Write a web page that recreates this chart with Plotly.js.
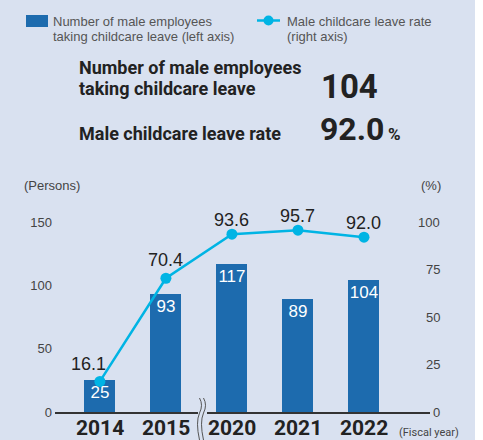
<!DOCTYPE html>
<html>
<head>
<meta charset="utf-8">
<script src="https://cdn.plot.ly/plotly-3.0.1.min.js"></script>
<style>
html,body{margin:0;padding:0;background:#ffffff;}
#wrap{position:absolute;left:0;top:0;width:475px;height:440px;background:#d9e1f0;}
#chart{position:absolute;left:0;top:0;width:483px;height:440px;}
</style>
</head>
<body>
<div id="wrap"></div>
<div id="chart"></div>
<script>
// ---- data ----
const years = ["2014", "2015", "2020", "2021", "2022"];
const maleEmployees = [25, 93, 117, 89, 104];
const leaveRate = [16.1, 70.4, 93.6, 95.7, 92.0];
const leftTicks = [0, 50, 100, 150];
const rightTicks = [0, 25, 50, 75, 100];
const headlineCount = "104";
const headlineRate = "92.0";

// ---- geometry helpers (pixel -> paper) ----
const L = 55, R = 430, T = 222, B = 412;
const X = px => (px - L) / (R - L);
const Y = py => (B - py) / (B - T);

const BAR = "#1d6bae", LINE = "#00b4e4", BG = "#d9e1f0";
const REG = "Liberation Sans, Arial, sans-serif";
const HEAD = "Roboto, Liberation Sans, sans-serif";

const bars = {
  type: "bar", x: years, y: maleEmployees, yaxis: "y",
  marker: {color: BAR}, width: 0.47,
  text: maleEmployees.map(String), textposition: "inside", insidetextanchor: "end",
  textangle: 0, constraintext: "none",
  textfont: {color: "#ffffff", size: 17, family: REG},
  hoverinfo: "skip", cliponaxis: false
};
const line = {
  type: "scatter", mode: "lines+markers", x: years, y: leaveRate, yaxis: "y2",
  line: {color: LINE, width: 2.5}, marker: {color: LINE, size: 11},
  hoverinfo: "skip", cliponaxis: false
};

const ann = [];
// line value labels (x given as category index)
leaveRate.forEach((v, i) => {
  ann.push({x: i, y: v, xref: "x", yref: "y2", text: v.toFixed(1),
    showarrow: false, xanchor: "center", yanchor: "middle",
    xshift: i === 0 ? -11 : 0, yshift: i === 1 ? 18 : (i === 0 ? 17 : 14),
    font: {size: 18, color: "#222", family: REG}});
});
// x category labels
years.forEach((yr, i) => {
  ann.push({x: i, y: Y(428), xref: "x", yref: "paper", text: "<b>" + yr + "</b>",
    showarrow: false, xanchor: "center", yanchor: "middle",
    font: {size: 21, color: "#222", family: HEAD}});
});
// right axis tick labels (right aligned)
rightTicks.forEach(v => {
  ann.push({x: X(442), y: v, xref: "paper", yref: "y2", text: String(v),
    showarrow: false, xanchor: "right", yanchor: "middle",
    font: {size: 13, color: "#444", family: REG}});
});
function txt(text, px, py, opt) {
  ann.push(Object.assign({x: X(px), y: Y(py), xref: "paper", yref: "paper", text: text,
    showarrow: false, xanchor: "left", yanchor: "middle",
    font: {size: 13, color: "#555", family: REG}}, opt || {}));
}
// axis unit labels
txt("(Persons)", 22, 185, {font: {size: 13, color: "#444", family: REG}});
txt("(%)", 443, 185, {xanchor: "right", font: {size: 13, color: "#444", family: REG}});
txt("(Fiscal year)", 397, 432, {font: {size: 11, color: "#444", family: HEAD}});
// legend texts
txt("Number of male employees", 51, 21);
txt("taking childcare leave (left axis)", 51, 36);
txt("Male childcare leave rate", 285, 21);
txt("(right axis)", 285, 36);
// headlines
const H = {size: 18, color: "#222", family: HEAD};
txt("<b>Number of male employees</b>", 77, 68, {font: H});
txt("<b>taking childcare leave</b>", 77, 88, {font: H});
txt("<b>Male childcare leave rate</b>", 77, 133, {font: H});
txt("<b>" + headlineCount + "</b>", 319, 86, {font: {size: 33, color: "#222", family: HEAD}});
txt("<b>" + headlineRate + "</b>", 318, 129, {font: {size: 32, color: "#222", family: HEAD}});
txt("<b>%</b>", 386, 134, {font: {size: 17, color: "#222", family: HEAD}});

const shapes = [
  // legend bar swatch
  {type: "rect", xref: "paper", yref: "paper", x0: X(26), x1: X(48), y0: Y(15), y1: Y(27),
   fillcolor: BAR, line: {width: 0}},
  // legend line swatch
  {type: "line", xref: "paper", yref: "paper", x0: X(257), x1: X(280), y0: Y(20.5), y1: Y(20.5),
   line: {color: LINE, width: 2.5}},
  {type: "circle", xref: "paper", yref: "paper", x0: X(263.5), x1: X(273.5), y0: Y(15.5), y1: Y(25.5),
   fillcolor: LINE, line: {width: 0}},
  // axis break: gap + two wavy lines
  {type: "rect", xref: "paper", yref: "paper", x0: X(198), x1: X(207), y0: Y(409), y1: Y(415),
   fillcolor: BG, line: {width: 0}, layer: "above"}
];
[199.5, 203.5].forEach(cx => {
  const p = `M ${X(cx)},${Y(398)} Q ${X(cx + 4)},${Y(405)} ${X(cx)},${Y(413)} Q ${X(cx - 4)},${Y(422)} ${X(cx)},${Y(440)}`;
  shapes.push({type: "path", xref: "paper", yref: "paper", path: p,
    line: {color: "#555", width: 1}, layer: "above"});
});

const layout = {
  width: 483, height: 440,
  margin: {l: L, r: 483 - R, t: T, b: 440 - B, pad: 0},
  paper_bgcolor: "rgba(0,0,0,0)", plot_bgcolor: "rgba(0,0,0,0)",
  showlegend: false,
  xaxis: {type: "category", range: [-0.68, 5.0], showgrid: false, zeroline: false,
    showline: true, linecolor: "#333", linewidth: 2, ticks: "", showticklabels: false,
    fixedrange: true},
  yaxis: {range: [0, 150], tickvals: leftTicks, showgrid: false, zeroline: false, showline: false,
    ticks: "", tickfont: {size: 13, color: "#444", family: REG}, ticklabelstandoff: 2, fixedrange: true},
  yaxis2: {range: [0, 100], overlaying: "y", side: "right", showgrid: false, zeroline: false,
    showline: false, showticklabels: false, ticks: "", fixedrange: true},
  annotations: ann, shapes: shapes, bargap: 0
};
Plotly.newPlot("chart", [bars, line], layout, {displayModeBar: false, staticPlot: true});
</script>
</body>
</html>
